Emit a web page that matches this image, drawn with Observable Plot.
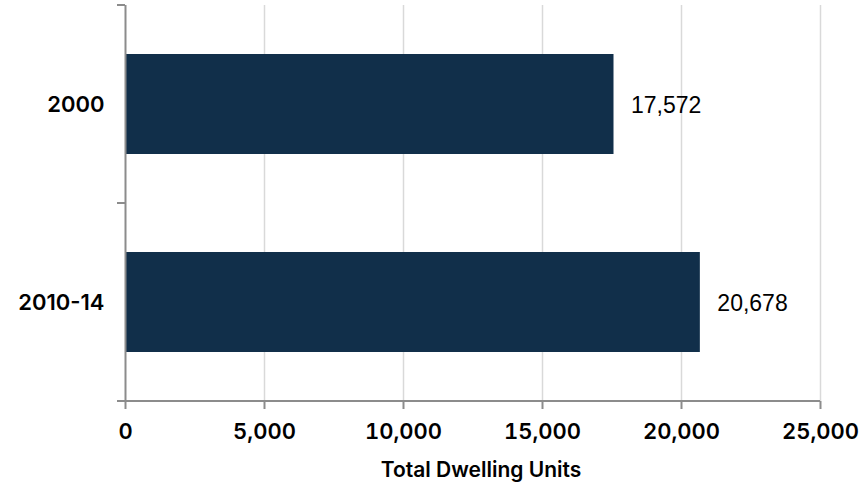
<!DOCTYPE html>
<html>
<head>
<meta charset="utf-8">
<script src="https://cdn.jsdelivr.net/npm/d3@7"></script>
<script src="https://cdn.jsdelivr.net/npm/@observablehq/plot@0.6"></script>
<style>
  html, body { margin: 0; padding: 0; background: #fff; }
  #chart svg { display: block; }
</style>
</head>
<body>
<div id="chart"></div>
<script>
// Total dwelling units by period
const periods = ["2000", "2010-14"];
const dwellingUnits = [17572, 20678];
const xTicks = [0, 5000, 10000, 15000, 20000, 25000];
const xLabel = "Total Dwelling Units";

const rows = periods.map((p, i) => ({period: p, units: dwellingUnits[i]}));

const axisGray = "#8c8c8c";
const barColor = "#112f4a";
const valueFont = "'Liberation Sans', Arial, sans-serif";
const axisFont = "Inter, 'Liberation Sans', sans-serif";
const comma = d3.format(",");

// Category boundary ticks on the y axis plus the x-axis baseline
function categoryFrame(index, scales, values, dimensions) {
  const {x, y} = scales;
  const bw = typeof y.bandwidth === "function" ? y.bandwidth() : y.bandwidth;
  const g = d3.create("svg:g").attr("stroke", axisGray).attr("stroke-width", 2);
  const edges = periods.map(p => y(p)).concat([y(periods[periods.length - 1]) + bw]);
  const x0 = x(0);
  for (const e of edges) {
    g.append("line").attr("x1", x0 - 8).attr("x2", x0).attr("y1", e).attr("y2", e);
  }
  const yb = y(periods[periods.length - 1]) + bw;
  g.append("line").attr("x1", x0 - 8).attr("x2", x(xTicks[xTicks.length - 1])).attr("y1", yb).attr("y2", yb);
  return g.node();
}

const chart = Plot.plot({
  width: 867,
  height: 489,
  marginLeft: 125,
  marginRight: 47,
  marginTop: 5,
  marginBottom: 88,
  style: {fontFamily: valueFont, background: "#fff", color: "#000"},
  x: {domain: [0, 25000], ticks: xTicks},
  y: {domain: periods, padding: 0},
  marks: [
    Plot.gridX(xTicks.slice(1), {stroke: "#d9d9d9", strokeOpacity: 1, strokeWidth: 1.5}),
    Plot.barX(rows, {x: "units", y: "period", fill: barColor, insetTop: 49, insetBottom: 49}),
    Plot.ruleX([0], {stroke: axisGray, strokeWidth: 2}),
    categoryFrame,
    Plot.axisX({
      ticks: xTicks, tickFormat: comma, tickSize: 8, tickPadding: 14,
      stroke: axisGray, strokeWidth: 2, fill: "#000",
      fontFamily: axisFont, fontSize: 22, fontWeight: 600, label: null
    }),
    Plot.axisY({
      tickSize: 0, tickPadding: 21, fill: "#000",
      fontFamily: axisFont, fontSize: 22, fontWeight: 600, label: null
    }),
    Plot.text(rows, {
      x: "units", y: "period", text: d => comma(d.units),
      dx: 17, dy: 1, textAnchor: "start", fontSize: 23, fill: "#000"
    }),
    Plot.text([xLabel], {
      frameAnchor: "bottom", dy: 75, dx: 8,
      fontFamily: axisFont, fontSize: 21, fontWeight: 600, fill: "#000"
    })
  ]
});

document.getElementById("chart").append(chart);
</script>
</body>
</html>
